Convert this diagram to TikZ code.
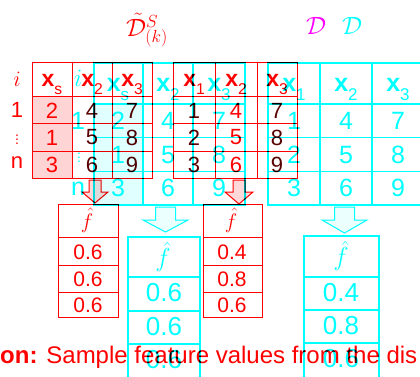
\documentclass[tikz,border=0pt]{standalone}
\usepackage{fix-cm}
\usepackage{fontspec}
\setmainfont{Liberation Sans}
\definecolor{cy}{rgb}{0,1,1}
\definecolor{rd}{rgb}{1,0,0}
\definecolor{mg}{rgb}{1,0,1}
\newcommand{\hx}[1]{\textbf{x}\raisebox{-.33em}{\scalebox{.68}{#1}}}

\begin{document}
\begin{tikzpicture}[x=1pt,y=-1pt,
  rline/.style={rd, line width=1pt},
  cline/.style={cy, line width=1.3pt},
  rnum/.style={rd, inner sep=0pt, font=\fontsize{22}{22}\selectfont},
  dnum/.style={rnum, text=rd!35!black},
  bnum/.style={rnum, font=\fontsize{21}{21}\selectfont},
  cnum/.style={cy, inner sep=0pt, font=\fontsize{25}{25}\selectfont},
  bcnum/.style={cnum, font=\fontsize{26}{26}\selectfont},
  rhead/.style={rd, inner sep=0pt, anchor=base, font=\fontsize{23}{23}\selectfont},
  chead/.style={cy, inner sep=0pt, anchor=base, font=\fontsize{25}{25}\selectfont}]
\useasboundingbox (0,0) rectangle (420,377);
\clip (0,0) rectangle (420,377);
\fill[cy!12] (94,104) rectangle (143,205);
\draw[cline] (94,63) rectangle (245,205);
\draw[cline] (94,104) -- (245,104) (94,137.7) -- (245,137.7) (94,171.3) -- (245,171.3);
\draw[cline] (143,63) -- (143,205) (193,63) -- (193,205);
\draw[cline] (268,63) rectangle (426,205);
\draw[cline] (268,104) -- (426,104) (268,137.7) -- (426,137.7) (268,171.3) -- (426,171.3);
\draw[cline] (320,63) -- (320,205) (372,63) -- (372,205);
\node[chead] (cbhs) at (118,92) {\hx{s}};
\node[chead] (cbh2) at (168,92) {\hx{2}};
\node[chead] (cbh3) at (219,92) {\hx{3}};
\node[chead] (cah1) at (294,92) {\hx{1}};
\node[chead] (cah2) at (346,92) {\hx{2}};
\node[chead] (cah3) at (398,92) {\hx{3}};
\node[cnum] (cbi) at (78,78) {$i$};
\node[cnum] (cb1) at (78,121) {1};
\node[cnum, font=\fontsize{14}{14}\selectfont] (cbd) at (79,155) {$\vdots$};
\node[cnum] (cbn) at (78,189) {n};
\node[cnum] (cbs1) at (118,121) {2};
\node[cnum] (cbs2) at (118,155) {1};
\node[cnum] (cbs3) at (118,188) {3};
\node[cnum] (cbb1) at (168,121) {4};
\node[cnum] (cbb2) at (168,155) {5};
\node[cnum] (cbb3) at (168,188) {6};
\node[cnum] (cbc1) at (219,121) {7};
\node[cnum] (cbc2) at (219,155) {8};
\node[cnum] (cbc3) at (219,188) {9};
\node[cnum] (caa1) at (294,121) {1};
\node[cnum] (caa2) at (294,155) {2};
\node[cnum] (caa3) at (294,188) {3};
\node[cnum] (cab1) at (346,121) {4};
\node[cnum] (cab2) at (346,155) {5};
\node[cnum] (cab3) at (346,188) {6};
\node[cnum] (cac1) at (398,121) {7};
\node[cnum] (cac2) at (398,155) {8};
\node[cnum] (cac3) at (398,188) {9};
\draw[cy, line width=1pt, fill=cy!8] (155.5,207) -- (175.5,207) -- (175.5,220) -- (188,220) -- (165.5,232) -- (143,220) -- (155.5,220) -- cycle;
\draw[cy, line width=1pt, fill=cy!8] (334.5,207) -- (354.5,207) -- (354.5,220) -- (367,220) -- (344.5,233) -- (322,220) -- (334.5,220) -- cycle;
\draw[cline] (128,237) rectangle (200,392);
\draw[cline] (128,277) -- (200,277) (128,311) -- (200,311) (128,344) -- (200,344);
\draw[cline] (304,236) rectangle (379,392);
\draw[cline] (304,277) -- (379,277) (304,310) -- (379,310) (304,343) -- (379,343);
\node[bcnum] (cfa) at (163,257) {$\hat{f}$};
\node[bcnum] (cfa1) at (164,293) {0.6};
\node[bcnum] (cfa2) at (164,327) {0.6};
\node[bcnum] (cfa3) at (164,360) {0.6};
\node[bcnum] (cfb) at (341,256) {$\hat{f}$};
\node[bcnum] (cfb1) at (341,293) {0.4};
\node[bcnum] (cfb2) at (341,326) {0.8};
\node[bcnum] (cfb3) at (341,359) {0.6};
\node[mg, inner sep=0pt, font=\fontsize{25}{25}\selectfont] (dm) at (316,26) {$\mathcal{D}$};
\node[cy, inner sep=0pt, font=\fontsize{25}{25}\selectfont] (dc) at (352,26) {$\mathcal{D}$};
\begin{scope}[blend mode=multiply]
\fill[rd!17] (32,97) rectangle (72,178);
\draw[rline] (32,63) rectangle (152,178);
\draw[rline] (32,97) -- (152,97) (32,124) -- (152,124) (32,151) -- (152,151);
\draw[rline] (72,63) -- (72,178) (112,63) -- (112,178);
\draw[rline] (173,63) rectangle (297,178);
\draw[rline] (173,97) -- (297,97) (173,124) -- (297,124) (173,151) -- (297,151);
\draw[rline] (215,63) -- (215,178) (257,63) -- (257,178);
\node[rd, inner sep=0pt, font=\fontsize{25}{25}\selectfont] (title) at (147,30) {$\tilde{\mathcal{D}}^{S}_{(k)}$};
\node[rhead] (rahs) at (52,87) {\hx{s}};
\node[rhead] (rah2) at (92,87) {\hx{2}};
\node[rhead] (rah3) at (132,87) {\hx{3}};
\node[rhead] (rbh1) at (194,87) {\hx{1}};
\node[rhead] (rbh2) at (236,87) {\hx{2}};
\node[rhead] (rbh3) at (277,87) {\hx{3}};
\node[rnum] (ri) at (17,79) {$i$};
\node[rnum] (r1) at (17,110) {1};
\node[rnum, font=\fontsize{14}{14}\selectfont] (rdots) at (17,137) {$\vdots$};
\node[rnum] (rn) at (17,163) {n};
\node[rnum] (ras1) at (52,110.5) {2};
\node[rnum] (ras2) at (52,137.5) {1};
\node[rnum] (ras3) at (52,164.5) {3};
\node[dnum] (rab1) at (92,110.5) {4};
\node[dnum] (rab2) at (92,137.5) {5};
\node[dnum] (rab3) at (92,164.5) {6};
\node[dnum] (rac1) at (132,110.5) {7};
\node[dnum] (rac2) at (132,137.5) {8};
\node[dnum] (rac3) at (132,164.5) {9};
\node[dnum] (rba1) at (194,110.5) {1};
\node[dnum] (rba2) at (194,137.5) {2};
\node[dnum] (rba3) at (194,164.5) {3};
\node[rnum] (rbb1) at (236,110.5) {4};
\node[rnum] (rbb2) at (236,137.5) {5};
\node[rnum] (rbb3) at (236,164.5) {6};
\node[dnum] (rbc1) at (277,110.5) {7};
\node[dnum] (rbc2) at (277,137.5) {8};
\node[dnum] (rbc3) at (277,164.5) {9};
\draw[rd, line width=1pt, fill=rd!15] (89,180) -- (101,180) -- (101,192) -- (108,192) -- (95,203) -- (82,192) -- (89,192) -- cycle;
\draw[rd, line width=1pt, fill=rd!15] (233,180) -- (245,180) -- (245,192) -- (253,192) -- (239,204) -- (225,192) -- (233,192) -- cycle;
\draw[rline] (58,204) rectangle (118,317);
\draw[rline] (58,237) -- (118,237) (58,265) -- (118,265) (58,292) -- (118,292);
\draw[rline] (203,204) rectangle (262,317);
\draw[rline] (203,237) -- (262,237) (203,265) -- (262,265) (203,292) -- (262,292);
\node[bnum] (rfa) at (87,220) {$\hat{f}$};
\node[bnum] (rfa1) at (88,252) {0.6};
\node[bnum] (rfa2) at (88,279) {0.6};
\node[bnum] (rfa3) at (88,305) {0.6};
\node[bnum] (rfb) at (231,220) {$\hat{f}$};
\node[bnum] (rfb1) at (232,252) {0.4};
\node[bnum] (rfb2) at (232,279) {0.8};
\node[bnum] (rfb3) at (232,305) {0.6};
\node[rd, inner sep=0pt, anchor=base west, font=\fontsize{24}{24}\selectfont] (caption) at (0,363) {\textbf{on:} Sample feature values from the dis};
\end{scope}
\end{tikzpicture}
\end{document}
